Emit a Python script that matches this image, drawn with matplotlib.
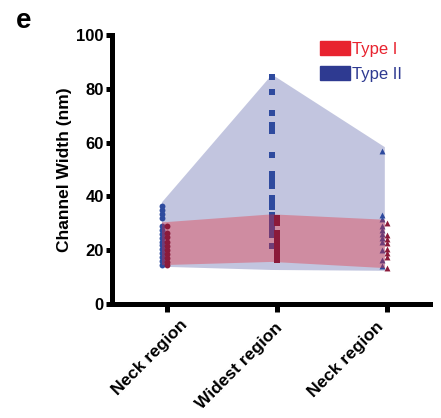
import matplotlib
matplotlib.use("Agg")
import matplotlib.pyplot as plt
import matplotlib.transforms as mtransforms
import numpy as np
from matplotlib.patches import Patch

plt.rcParams['font.family'] = ['Liberation Sans', 'DejaVu Sans']

categories = ["Neck region", "Widest region", "Neck region"]
markers = ["o", "s", "^"]

# Type II (blue) points per category
t2_neck1 = [36.5, 35, 33.5, 32, 29, 27.5, 26, 24.5, 23, 22, 20.5, 19, 17.5, 16, 14.5]
t2_widest = [84.5, 79, 71, 66.5, 64.5, 55.5, 48.5, 47, 45.5, 44, 39.5, 37.5, 36,
             33, 31.5, 30, 28.5, 27, 25.5, 21.5]
t2_neck2 = [57, 33, 31.5, 29, 27.5, 26, 24.5, 23, 20, 16.5, 14]

# Type I (red) points per category
t1_neck1 = [29, 26.5, 25, 23, 21.5, 20, 18.5, 17, 15.5, 14.5]
t1_widest = [32, 30, 26.5, 25, 23.5, 22, 20.5, 19, 17.5, 16.5]
t1_neck2 = [30, 25.5, 24, 22.5, 20.5, 19, 17.5, 13.5]

# Band envelopes (upper / lower) per category
t2_upper = [38, 85.5, 58.5]
t2_lower = [14, 12.8, 12.5]
t1_upper = [30.5, 33.5, 31.5]
t1_lower = [14.6, 15.8, 13.5]

blue = "#2E3A91"
blue_pt = "#2E4A9E"
red = "#E8232F"
red_pt = "#8B1A3A"

fig = plt.figure(figsize=(4.41, 4.18), dpi=100)
ax = fig.add_axes([0.254, 0.273, 0.721, 0.643])

x = np.arange(len(categories))
band_x = x + np.array([-0.05, -0.05, -0.025])

ax.fill_between(band_x, t2_lower, t2_upper, color=blue, alpha=0.29, lw=0, zorder=1)

t2 = [t2_neck1, t2_widest, t2_neck2]
t1 = [t1_neck1, t1_widest, t1_neck2]
for i, (vals, m) in enumerate(zip(t2, markers)):
    ax.scatter(np.full(len(vals), x[i] - 0.048), vals, marker=m, s=18,
               color=blue_pt, lw=0, zorder=2)

ax.fill_between(band_x, t1_lower, t1_upper, color=red, alpha=0.35, lw=0, zorder=3)

for i, (vals, m) in enumerate(zip(t1, markers)):
    ax.scatter(np.full(len(vals), x[i]), vals, marker=m, s=18,
               color=red_pt, lw=0, zorder=4)

ax.set_xlim(-0.5, 2.39)
ax.set_ylim(0, 100)
ax.set_yticks(np.arange(0, 101, 20))
ax.set_xticks(x)
ax.set_xticklabels([])
# category labels, drawn as rotated text under each tick
label_dx = [13, -2, -11]
label_dy = [13, 16, 15]
for i, (name, dx, dy) in enumerate(zip(categories, label_dx, label_dy)):
    tr = ax.get_xaxis_transform() + mtransforms.ScaledTranslation(
        dx / 100, -dy / 100, fig.dpi_scale_trans)
    ax.text(x[i], 0, name, transform=tr, rotation=45, ha="right", va="top",
            rotation_mode="anchor", fontsize=12.5, fontweight="bold", clip_on=False)
for lbl in ax.get_yticklabels():
    lbl.set_fontweight("bold")
    lbl.set_fontsize(12)

for s in ["top", "right"]:
    ax.spines[s].set_visible(False)
for s in ["left", "bottom"]:
    ax.spines[s].set_linewidth(3.6)
ax.tick_params(axis="y", width=3.6, length=4.5, pad=1.5)
ax.tick_params(axis="x", width=3.6, length=5.5, pad=2)
ax.set_ylabel("Channel Width (nm)", fontsize=12.5, fontweight="bold", labelpad=3)

handles = [Patch(color=red, label="Type I"), Patch(color=blue, label="Type II")]
leg = fig.legend(handles=handles, loc="upper left",
                 bbox_to_anchor=(320 / 441, 1 - 41 / 418),
                 frameon=False, fontsize=12, handlelength=1.8, handleheight=0.9,
                 handletextpad=0.1, labelspacing=0.55, borderpad=0, borderaxespad=0)
for t, c in zip(leg.get_texts(), [red, blue]):
    t.set_color(c)

fig.text(16 / 441, 1 - 28 / 418, "e", fontsize=20, fontweight="bold", va="baseline")

fig.savefig("out.png", dpi=100)
